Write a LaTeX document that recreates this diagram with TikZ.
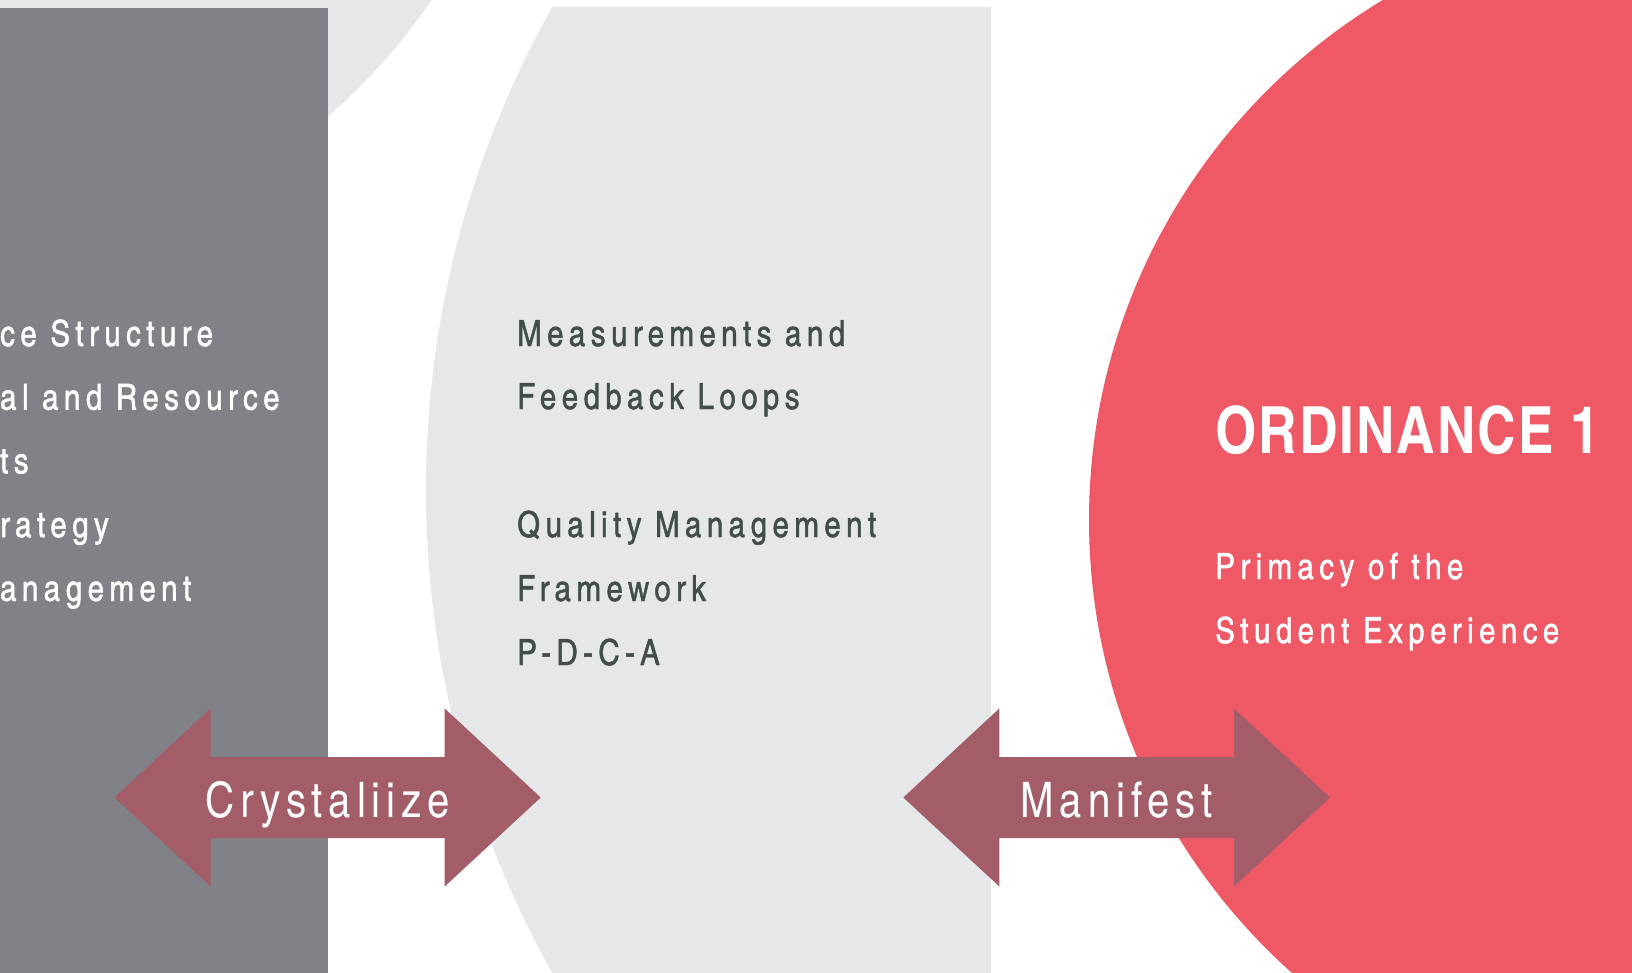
\documentclass[tikz,border=0pt]{standalone}
\usepackage{fontspec}
\newfontfamily\cnfont[Extension=.otf,UprightFont=*-regular,BoldFont=*-bold]{texgyreheroscn}
\usepackage{tikz}
\definecolor{slab}{HTML}{808288}
\definecolor{pale}{HTML}{E6E7E9}
\definecolor{coral}{HTML}{EF5966}
\definecolor{wine}{HTML}{A35D69}
\definecolor{ink}{HTML}{424C4C}
\tikzset{
    line txt/.style={anchor=base west, inner sep=0pt, font=\cnfont\fontsize{36}{40}\selectfont\addfontfeature{LetterSpace=15,FakeBold=1.2}}, % 各列正文
    arrow txt/.style={anchor=base, inner sep=0pt, text=white, font=\cnfont\fontsize{49}{50}\selectfont\addfontfeature{LetterSpace=12}}, % 箭头上的字
    title txt/.style={anchor=base west, inner sep=0pt, text=white, font=\cnfont\bfseries\fontsize{65}{70}\selectfont\addfontfeature{LetterSpace=3}} % 标题
}

\begin{document}
\begin{tikzpicture}[x=1pt, y=-1pt]
    \useasboundingbox (0,0) rectangle (1632,973);
    \clip (0,0) rectangle (1632,973);

    % 背景形状
    \fill[pale] (-74,-345) circle[radius=612pt];
    \fill[slab] (0,8) rectangle (328,973);
    \begin{scope}
        \clip (0,8) rectangle (991,973);
        \fill[pale] (1411,490) circle[radius=985pt];
    \end{scope}
    \fill[coral] (1696,520) circle[radius=607pt];

    % 双向箭头
    \foreach \xl/\xr/\nm/\lab in {114.5/540.7/crys/Crystaliize, 903.3/1330/mani/Manifest} {
        \fill[wine] (\xl,797.5) -- ++(96,-89) -- ++(0,48.5) -- (\xr-96,757) -- ++(0,-48.5) -- (\xr,797.5)
            -- (\xr-96,886.5) -- ++(0,-48.5) -- (\xl+96,838) -- ++(0,48.5) -- cycle;
        \node[arrow txt] (\nm) at ({(\xl+\xr)/2},817.5) {\lab};
    }

    % 左列
    \foreach \t [count=\i] in {ce Structure, al and Resource, ts, rategy, anagement}
        \node[line txt, text=white] (left\i) at (0,{346+63.7*(\i-1)}) {\t};

    % 中列
    \foreach \t/\yy [count=\i] in {Measurements and/346, Feedback Loops/409, Quality Management/537, Framework/601, P-D-C-A/665}
        \node[line txt, text=ink] (mid\i) at (517,\yy) {\t};

    % 右列
    \node[title txt] (ord) at (1215,453) {ORDINANCE 1};
    \node[line txt, text=white] (prim) at (1215,579) {Primacy of the};
    \node[line txt, text=white] (stud) at (1215,643) {Student Experience};
\end{tikzpicture}
\end{document}
